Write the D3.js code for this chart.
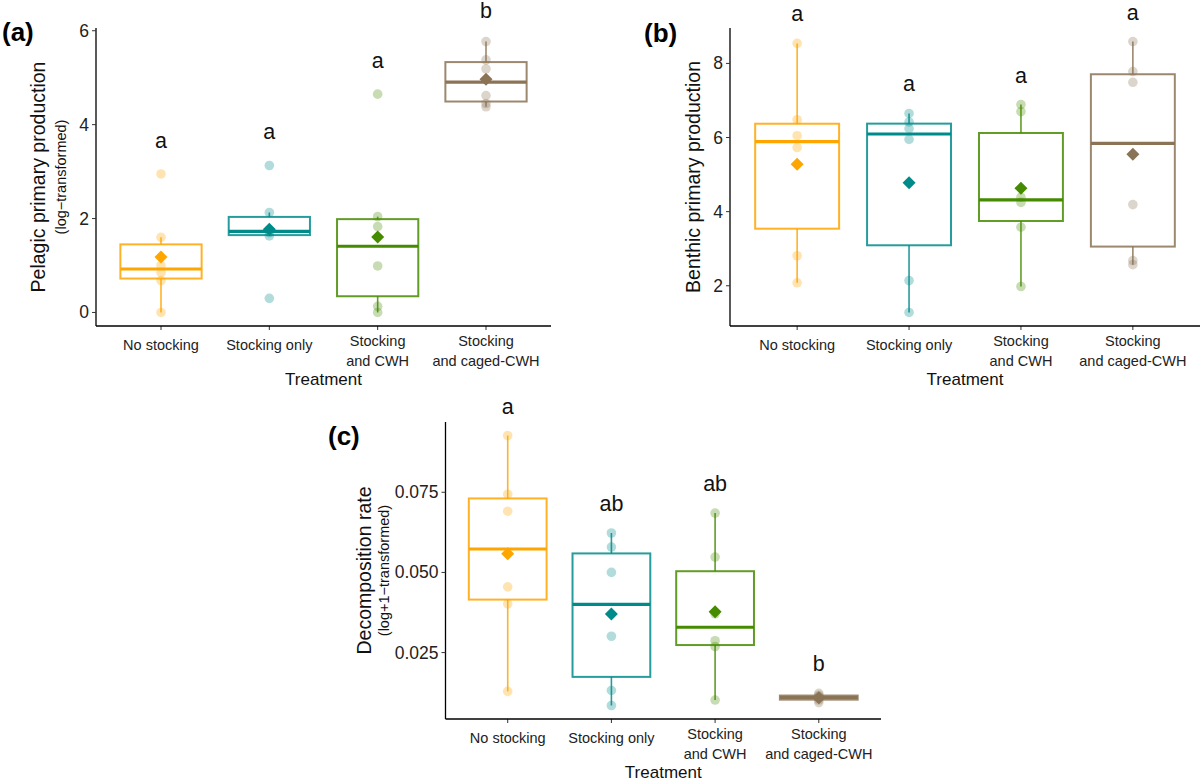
<!DOCTYPE html>
<html>
<head>
<meta charset="utf-8">
<script src="https://cdn.jsdelivr.net/npm/d3@7"></script>
<style>
  body { margin: 0; background: #fff; }
  svg text { font-family: "Liberation Sans", Arial, sans-serif; }
</style>
</head>
<body>
<svg id="fig" width="1200" height="783"></svg>
<script>
var treatments = ["No stocking", "Stocking only", "Stocking\nand CWH", "Stocking\nand caged-CWH"];
var palette = ["#FFA500", "#008B8B", "#458B00", "#8B7355"];

// pelagic primary production (log-transformed), one array per treatment
var pelagicValues = [
  [0, 0.68, 0.85, 1.0, 1.6, 2.95],
  [0.3, 1.63, 1.7, 1.75, 2.13, 3.13],
  [0, 0.13, 0.99, 1.83, 2.04, 4.65],
  [4.38, 4.45, 4.62, 5.19, 5.38, 5.77]
];
var pelagicLetters = ["a", "a", "a", "b"];
var pelagicTicks = [0, 2, 4, 6];

// benthic primary production
var benthicValues = [
  [2.08, 2.81, 5.73, 6.05, 6.48, 8.54],
  [1.28, 2.14, 5.95, 6.24, 6.42, 6.65],
  [1.98, 3.58, 4.25, 4.39, 6.70, 6.89],
  [2.57, 2.68, 4.19, 7.49, 7.78, 8.59]
];
var benthicLetters = ["a", "a", "a", "a"];
var benthicTicks = [2, 4, 6, 8];

// decomposition rate (log+1-transformed)
var decompValues = [
  [0.0129, 0.0402, 0.0455, 0.0691, 0.0744, 0.0927],
  [0.0085, 0.0132, 0.0301, 0.0500, 0.0579, 0.0623],
  [0.0102, 0.0269, 0.0287, 0.0371, 0.0548, 0.0685],
  [0.0094, 0.0102, 0.0107, 0.0113, 0.0117, 0.0123]
];
var decompLetters = ["a", "ab", "ab", "b"];
var decompTicks = [0.025, 0.050, 0.075];

var svg = d3.select("#fig");

/* stats like ggplot's stat_boxplot */
function boxStats(vals) {
  var s = vals.slice().sort(d3.ascending);
  var q1 = d3.quantile(s, 0.25), med = d3.quantile(s, 0.5), q3 = d3.quantile(s, 0.75);
  var iqr = q3 - q1;
  var inside = s.filter(function(v) { return v >= q1 - 1.5 * iqr && v <= q3 + 1.5 * iqr; });
  return { q1: q1, med: med, q3: q3, lo: d3.min(inside), hi: d3.max(inside), mean: d3.mean(s) };
}

function drawPanel(p) {
  var g = svg.append("g");
  var all = d3.merge(p.values);
  var ext = d3.extent(all), pad = (ext[1] - ext[0]) * 0.05;

  var x = d3.scalePoint().domain(treatments).range([p.left, p.right]).padding(0.6);
  var y = d3.scaleLinear().domain([ext[0] - pad, ext[1] + pad]).range([p.bottom, p.top]);
  var bw = x.step() * 0.75;

  p.values.forEach(function(vals, i) {
    var cx = x(treatments[i]), st = boxStats(vals), col = palette[i];
    var b = g.append("g");
    // whiskers
    b.append("line").attr("x1", cx).attr("x2", cx).attr("y1", y(st.q3)).attr("y2", y(st.hi))
      .attr("stroke", col).attr("stroke-opacity", 0.85).attr("stroke-width", 1.6);
    b.append("line").attr("x1", cx).attr("x2", cx).attr("y1", y(st.q1)).attr("y2", y(st.lo))
      .attr("stroke", col).attr("stroke-opacity", 0.85).attr("stroke-width", 1.6);
    b.append("rect").attr("x", cx - bw / 2).attr("width", bw)
      .attr("y", y(st.q3)).attr("height", Math.max(0.5, y(st.q1) - y(st.q3)))
      .attr("fill", "none").attr("stroke", col).attr("stroke-opacity", 0.85).attr("stroke-width", 2);
    b.append("line").attr("x1", cx - bw / 2).attr("x2", cx + bw / 2)
      .attr("y1", y(st.med)).attr("y2", y(st.med))
      .attr("stroke", col).attr("stroke-width", 3.2);
    // raw points
    b.selectAll("circle").data(vals).enter().append("circle")
      .attr("cx", cx).attr("cy", function(d) { return y(d); }).attr("r", 4.8)
      .attr("fill", col).attr("fill-opacity", 0.3);
    // mean diamond
    b.append("path").attr("d", "M0,-6.5L6.5,0L0,6.5L-6.5,0Z")
      .attr("transform", "translate(" + cx + "," + y(st.mean) + ")")
      .attr("fill", col);
    // letters
    g.append("text").attr("x", cx).attr("y", Math.max(18, y(d3.max(vals)) - p.letterGap))
      .attr("text-anchor", "middle").attr("font-size", 21.5).attr("fill", "#111")
      .text(p.letters[i]);
    // category labels
    var lines = treatments[i].split("\n");
    var t = g.append("text").attr("text-anchor", "middle").attr("font-size", 14.5).attr("fill", "#222");
    lines.forEach(function(ln, k) {
      var yy = lines.length == 1 ? p.bottom + 24 : p.bottom + 20 + k * 20;
      t.append("tspan").attr("x", cx).attr("y", yy).text(ln);
    });
    g.append("line").attr("x1", cx).attr("x2", cx).attr("y1", p.bottom).attr("y2", p.bottom + 4)
      .attr("stroke", "#333").attr("stroke-width", 1);
  });

  // axes
  g.append("line").attr("x1", p.left).attr("x2", p.left).attr("y1", p.top).attr("y2", p.bottom)
    .attr("stroke", "#000").attr("stroke-width", 1.3);
  g.append("line").attr("x1", p.left).attr("x2", p.right).attr("y1", p.bottom).attr("y2", p.bottom)
    .attr("stroke", "#000").attr("stroke-width", 1.3);

  var yt = g.selectAll(".yt").data(p.ticks).enter().append("g");
  yt.append("line").attr("x1", p.left - 4).attr("x2", p.left)
    .attr("y1", function(d) { return y(d); }).attr("y2", function(d) { return y(d); })
    .attr("stroke", "#333");
  yt.append("text").attr("x", p.left - 7).attr("y", function(d) { return y(d) + 6; })
    .attr("text-anchor", "end").attr("font-size", 17.5).attr("fill", "#222")
    .text(function(d) { return d3.format(p.fmt)(d); });

  // titles
  g.append("text").attr("x", (p.left + p.right) / 2).attr("y", p.bottom + 59)
    .attr("text-anchor", "middle").attr("font-size", 17).attr("fill", "#111").text("Treatment");
  var cy = (p.top + p.bottom) / 2;
  g.append("text").attr("transform", "translate(" + p.titleX + "," + cy + ") rotate(-90)")
    .attr("text-anchor", "middle").attr("font-size", 19.5).attr("fill", "#111").text(p.title);
  if (p.sub) {
    g.append("text").attr("transform", "translate(" + p.subX + "," + cy + ") rotate(-90)")
      .attr("text-anchor", "middle").attr("font-size", 14.5).attr("fill", "#111").text(p.sub);
  }
  g.append("text").attr("x", p.tagX).attr("y", p.tagY).attr("font-size", 26)
    .attr("font-weight", "bold").attr("fill", "#000").text(p.tag);
}

drawPanel({ values: pelagicValues, letters: pelagicLetters, ticks: pelagicTicks, fmt: "d",
  left: 96, right: 551, top: 28, bottom: 326, letterGap: 26,
  title: "Pelagic primary production", sub: "(log\u2212transformed)", titleX: 45, subX: 66,
  tag: "(a)", tagX: 2, tagY: 41 });

drawPanel({ values: benthicValues, letters: benthicLetters, ticks: benthicTicks, fmt: "d",
  left: 730, right: 1200, top: 28, bottom: 326, letterGap: 22,
  title: "Benthic primary production", titleX: 700,
  tag: "(b)", tagX: 644, tagY: 42 });

drawPanel({ values: decompValues, letters: decompLetters, ticks: decompTicks, fmt: ".3f",
  left: 445.5, right: 881, top: 422, bottom: 719, letterGap: 22,
  title: "Decomposition rate", sub: "(log+1\u2212transformed)", titleX: 371, subX: 389,
  tag: "(c)", tagX: 328, tagY: 445 });
</script>
</body>
</html>
